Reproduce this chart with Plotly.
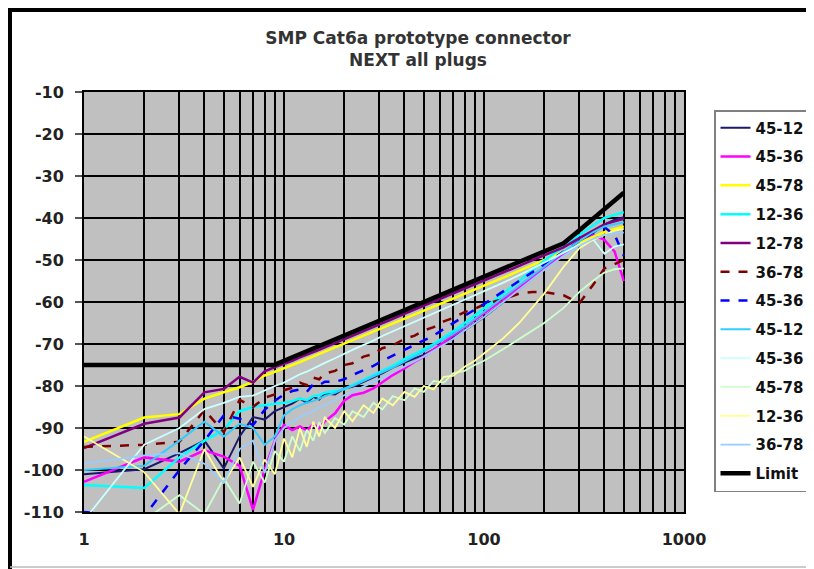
import plotly.graph_objects as go

# ---- data ----
freq = [1, 2, 3, 4, 5, 6, 7, 8, 9, 10, 11, 12, 13, 14, 15, 16, 18, 20, 22, 25, 28, 31,
        35, 40, 45, 50, 56, 63, 70, 80, 90, 100, 125, 150, 175, 200, 250, 300, 350,
        400, 450, 500]

navy_45_12 = [-101, -99.8, -96, -93, -99.6, -92, -87.4, -88, -86, -85, -84.2, -83, -84,
              -82.6, -83.2, -81.8, -82, -80.6, -80.2, -79, -78, -77, -75.6, -74.4, -73.4,
              -72.6, -71.4, -70, -68.6, -66.8, -65, -63.6, -60, -57, -54.4, -52, -48.6,
              -46, -43.6, -41.6, -40.4, -39.8]
magenta_45_36 = [-102.8, -97, -98, -95.3, -96.8, -99, -109.5, -100, -93, -89.3, -90.5,
                 -89.6, -90.6, -89, -90, -88.4, -86.5, -83.5, -82.2, -81.6, -80.6, -79.2,
                 -77.4, -75.8, -74.2, -73, -71.4, -69.6, -68, -66, -64.4, -62.8, -59.4,
                 -56.6, -54.2, -52, -48.6, -46, -44, -45.2, -48, -55]
yellow_45_78 = [-93.3, -87.5, -86.7, -83, -81.5, -80.3, -79, -77.5, -76.6, -75.8, -75,
                -74.3, -73.6, -73, -72.4, -71.8, -70.8, -69.9, -69.1, -68, -67.1, -66.2,
                -65.2, -64, -63, -62.1, -61.1, -60.1, -59.2, -58, -57, -56.1, -54.2, -52.6,
                -51.2, -50, -48, -46, -44.5, -43.4, -42.6, -42]
cyan_12_36 = [-103.6, -104.3, -97, -93, -90.5, -86, -85, -84.5, -84.2, -84, -83.6, -83,
              -83.4, -82.4, -82.2, -81.6, -81.2, -80.8, -79.8, -78.6, -77.4, -76.4, -75.2,
              -73.6, -72.4, -71.2, -70, -68.4, -67, -65, -63.2, -61.6, -58, -55, -52.4,
              -50.2, -46.8, -44, -41.8, -40, -39.2, -38.6]
purple_12_78 = [-94.8, -89, -87.5, -81.5, -80.7, -77.8, -79.2, -76.5, -75.5, -74.8, -74,
                -73.2, -72.6, -72, -71.4, -70.8, -69.8, -68.9, -68, -66.9, -65.9, -65, -64,
                -62.8, -61.8, -60.9, -59.9, -58.9, -58, -56.8, -55.8, -54.9, -53, -51.4,
                -50, -48.9, -47, -44.8, -43, -41.5, -40.8, -40.2]
darkred_36_78 = [-94.5, -94, -93.3, -85.7, -91, -83.3, -85, -82.8, -82, -81, -80.4, -79.2,
                 -79.8, -78, -78.4, -77, -76.4, -75, -74.6, -73, -72.4, -71, -70.3, -68.8,
                 -68, -66.8, -66, -64.6, -63.8, -62.4, -61.6, -60.6, -59.3, -58, -57.6,
                 -57.6, -58.4, -60.3, -56, -52, -51, -50]
blue_45_36 = [-110, -111, -100, -93, -87, -87.8, -89.3, -85.7, -83.5, -82, -81.2, -80.8,
              -81.4, -79.6, -79.8, -79, -79, -78.4, -77.4, -76.2, -75.2, -74, -72.8, -71.4,
              -70.2, -69.2, -68, -66.4, -65, -63.4, -61.8, -60.5, -57.5, -55, -52.8, -51,
              -48, -45.5, -43.5, -42.2, -44, -49]
sky_45_12 = [-100, -99, -93, -88.5, -92, -89, -90, -94, -92, -87, -85.5, -84.6, -84, -83.6,
             -83, -82.4, -81.6, -80.6, -80, -78.8, -77.8, -76.8, -75.6, -74.2, -73, -71.8,
             -70.4, -69, -67.6, -65.8, -64, -62.4, -59, -56, -53.6, -51.6, -48, -45.4,
             -43.4, -42, -41.4, -41]
lightcyan_45_36 = [-112, -94, -90, -85.5, -84, -82.6, -82.3, -81, -80, -79.2, -78.2, -77.2,
                   -76.6, -75.8, -75.2, -74.5, -73.4, -72.3, -71.4, -70.2, -69.2, -68.1,
                   -67, -65.8, -64.7, -63.8, -62.8, -61.6, -60.7, -59.4, -58.4, -57.4,
                   -55.4, -53.6, -52, -50.6, -48.4, -46.4, -45, -48.5, -46.8, -46.3]
lightgreen_45_78 = [-114, -112, -106, -110.5, -102, -108, -98, -103, -95.5, -98, -92, -95.5,
                    -90.4, -93, -88.6, -91.2, -87.6, -89.2, -86, -87.4, -84, -85.6, -82.4,
                    -83.4, -80.6, -81.4, -78.8, -79.2, -77, -76.4, -75, -74, -71.2, -68.8,
                    -66.8, -65, -61.4, -57.6, -55, -53, -52.2, -52]
lightyellow_12_36 = [-92, -100.5, -110.5, -95, -103, -97, -104, -97.5, -101, -92.5, -97,
                     -90, -94.5, -88.5, -92, -87.5, -90, -86, -88.4, -84.6, -86.4, -83,
                     -84.6, -81.4, -82.6, -80, -80.8, -77.8, -77.6, -75.4, -74, -72.2,
                     -68.6, -65, -61.2, -58, -51.6, -47.2, -45.2, -44, -43, -42.6]
paleblue_36_78 = [-98.5, -96.5, -96, -98.5, -103, -95, -93, -100.7, -93, -90, -88.5, -87.4,
                  -86.6, -86, -85, -84.6, -83.4, -82.2, -81.4, -80.2, -79, -78, -76.8,
                  -75.4, -74.2, -73, -71.6, -70.2, -68.8, -66.8, -65.2, -63.6, -60, -57,
                  -54.4, -52.4, -49, -46.6, -45, -44, -43.6, -43.5]

limit_freq = [1, 8.9, 20, 50, 100, 200, 250, 300, 400, 500]
limit_db = [-75, -75, -68, -60, -54, -48, -46, -42.9, -38, -34]

x_ticks = [1, 10, 100, 1000]
y_ticks = [-10, -20, -30, -40, -50, -60, -70, -80, -90, -100, -110]

series = [
    ("45-12", navy_45_12, "#1a1a6e", 2, "solid"),
    ("45-36", magenta_45_36, "#ff00ff", 2.5, "solid"),
    ("45-78", yellow_45_78, "#ffff00", 2.5, "solid"),
    ("12-36", cyan_12_36, "#00ffff", 2.5, "solid"),
    ("12-78", purple_12_78, "#800080", 2.5, "solid"),
    ("36-78", darkred_36_78, "#800000", 2.5, "dash"),
    ("45-36", blue_45_36, "#0000ff", 2.5, "dash"),
    ("45-12", sky_45_12, "#33ccff", 2, "solid"),
    ("45-36", lightcyan_45_36, "#ccffff", 1.8, "solid"),
    ("45-78", lightgreen_45_78, "#ccffcc", 1.8, "solid"),
    ("12-36", lightyellow_12_36, "#ffff99", 1.8, "solid"),
    ("36-78", paleblue_36_78, "#99ccff", 1.8, "solid"),
]

FONT = "DejaVu Sans, Arial, sans-serif"

# page offset of the figure (browser body margin)
OFF = 8
L, T = 84 - OFF, 92 - OFF          # plot area top-left inside the figure
PW, PH = 600, 420                  # plot area size
W, H = 814, 569

def px_x(page_x):
    return (page_x - OFF - L) / PW

def px_y(page_y):
    return (T + PH - (page_y - OFF)) / PH

fig = go.Figure()
for i, (name, vals, color, width, dash) in enumerate(series):
    fig.add_trace(go.Scatter(x=freq, y=vals, mode="lines", name=name,
                             legendgroup=f"g{i}",
                             line=dict(color=color, width=width, dash=dash)))
fig.add_trace(go.Scatter(x=limit_freq, y=limit_db, mode="lines", name="Limit",
                         legendgroup="glimit",
                         line=dict(color="black", width=4.5)))

minor_vals = [m * d for d in (1, 10, 100) for m in range(2, 10)]

fig.update_layout(
    width=W, height=H,
    margin=dict(l=L, r=W - L - PW, t=T, b=H - T - PH),
    paper_bgcolor="white",
    plot_bgcolor="#c0c0c0",
    font=dict(family=FONT, size=16, color="#222222"),
    title=dict(text="<b>SMP Cat6a prototype connector<br>NEXT all plugs</b>",
               x=(418 - OFF) / W, xref="container", xanchor="center",
               y=1 - (44 - OFF) / H, yref="container", yanchor="middle",
               font=dict(family=FONT, size=17, color="#333333")),
    showlegend=True,
    legend=dict(x=px_x(714), xanchor="left", y=px_y(110), yanchor="top",
                bgcolor="white", bordercolor="#808080", borderwidth=1.5,
                font=dict(family=FONT, size=15, color="#111111", weight="bold"),
                tracegroupgap=6.3, itemwidth=30),
)

fig.update_xaxes(type="log", range=[0, 3], tickvals=x_ticks,
                 ticktext=[f"<b>{v}</b>" for v in x_ticks],
                 showgrid=True, gridcolor="black", gridwidth=2,
                 minor=dict(tickvals=minor_vals, showgrid=True, gridcolor="black",
                            gridwidth=1.6, ticks=""),
                 ticks="", ticklabelstandoff=12,
                 showline=True, linecolor="black", linewidth=2, mirror=True,
                 zeroline=False)
fig.update_yaxes(range=[-110, -10], tickvals=y_ticks,
                 ticktext=[f"<b>{v}</b>" for v in y_ticks],
                 showgrid=True, gridcolor="black", gridwidth=2,
                 ticks="outside", ticklen=7, tickwidth=1.5, tickcolor="#555555",
                 ticklabelstandoff=8,
                 showline=True, linecolor="black", linewidth=2, mirror=True,
                 zeroline=False)

# outer frame of the chart (left and top black edges, light bottom edge)
fig.add_shape(type="line", xref="paper", yref="paper",
              x0=px_x(10), x1=px_x(10), y0=px_y(580), y1=px_y(9),
              line=dict(color="black", width=4))
fig.add_shape(type="line", xref="paper", yref="paper",
              x0=px_x(8), x1=px_x(830), y0=px_y(10), y1=px_y(10),
              line=dict(color="black", width=4))
fig.add_shape(type="line", xref="paper", yref="paper",
              x0=px_x(10), x1=px_x(830), y0=px_y(567), y1=px_y(567),
              line=dict(color="#bbbbbb", width=1.5))

fig.write_html("out.html")
